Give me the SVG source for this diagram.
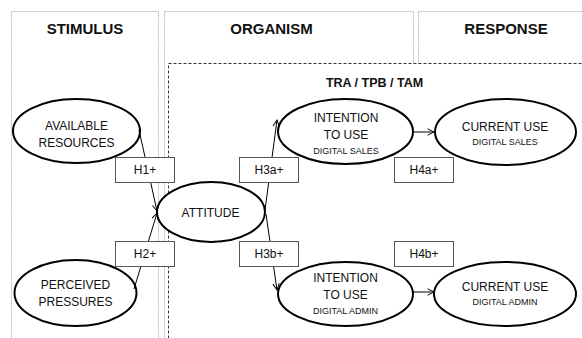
<svg xmlns="http://www.w3.org/2000/svg" width="582" height="338" viewBox="0 0 582 338">
<style>
.panel{fill:none;stroke:#bdbdbd;stroke-width:1;stroke-dasharray:2 1}
.head{font-family:"Liberation Sans",Arial,sans-serif;font-weight:bold;font-size:15px;fill:#111;text-anchor:middle}
.node ellipse{fill:#fff;stroke:#000;stroke-width:2}
.t{font-family:"Liberation Sans",Arial,sans-serif;font-size:12px;fill:#111;text-anchor:middle}
.s{font-family:"Liberation Sans",Arial,sans-serif;font-size:9px;fill:#111;text-anchor:middle}
.conn line{stroke:#000;stroke-width:1;marker-end:url(#arr)}
.lbl rect{fill:#fff;stroke:#555;stroke-width:1}
</style>
<defs>
<marker id="arr" viewBox="0 0 10 10" refX="9" refY="5" markerWidth="8" markerHeight="8" markerUnits="userSpaceOnUse" orient="auto">
<path d="M1,1 L9,5 L1,9" fill="none" stroke="#000" stroke-width="1.2"/>
</marker>
</defs>
<rect width="582" height="338" fill="#fff"/>
<g id="panels">
<rect class="panel" x="11.5" y="11.5" width="147" height="340"/>
<rect class="panel" x="164.5" y="11.5" width="249" height="340"/>
<rect class="panel" x="418.5" y="11.5" width="180" height="340"/>
<rect x="168.5" y="63.5" width="430" height="290" fill="#fff" stroke="#333" stroke-width="1" stroke-dasharray="3 2"/>
<text class="head" x="85" y="34">STIMULUS</text>
<text class="head" x="271.5" y="34">ORGANISM</text>
<text class="head" x="506" y="34">RESPONSE</text>
<text class="head" x="374.5" y="87" style="font-size:12.5px">TRA / TPB / TAM</text>
</g>
<g id="available" class="node">
<ellipse cx="76.5" cy="131" rx="63.5" ry="32"/>
<text class="t" x="76.5" y="129.5">AVAILABLE</text>
<text class="t" x="76.5" y="146.5">RESOURCES</text>
</g>
<g id="perceived" class="node">
<ellipse cx="75.5" cy="293" rx="61" ry="33"/>
<text class="t" x="75.5" y="288.5">PERCEIVED</text>
<text class="t" x="75.5" y="306">PRESSURES</text>
</g>
<g id="attitude" class="node">
<ellipse cx="211" cy="212" rx="54" ry="30"/>
<text class="t" x="210.5" y="217">ATTITUDE</text>
</g>
<g id="intention-sales" class="node">
<ellipse cx="345.5" cy="131.5" rx="67.5" ry="32.5"/>
<text class="t" x="346" y="121.5">INTENTION</text>
<text class="t" x="346" y="139">TO USE</text>
<text class="s" x="346" y="153.5">DIGITAL SALES</text>
</g>
<g id="current-sales" class="node">
<ellipse cx="505.5" cy="132" rx="70.5" ry="33"/>
<text class="t" x="505" y="130.5">CURRENT USE</text>
<text class="s" x="505" y="144.5">DIGITAL SALES</text>
</g>
<g id="intention-admin" class="node">
<ellipse cx="345.5" cy="294" rx="67.5" ry="32"/>
<text class="t" x="345.5" y="281.5">INTENTION</text>
<text class="t" x="345.5" y="298.5">TO USE</text>
<text class="s" x="345.5" y="313.5">DIGITAL ADMIN</text>
</g>
<g id="current-admin" class="node">
<ellipse cx="505" cy="294" rx="71" ry="32"/>
<text class="t" x="505" y="290.5">CURRENT USE</text>
<text class="s" x="505" y="305">DIGITAL ADMIN</text>
</g>
<g id="connectors" class="conn">
<line x1="139" y1="130" x2="157" y2="211"/>
<line x1="134" y1="289" x2="157" y2="213"/>
<line x1="265" y1="210" x2="277" y2="120"/>
<line x1="266" y1="214" x2="277" y2="290"/>
<line x1="413" y1="132" x2="434" y2="132"/>
<line x1="413" y1="292" x2="434" y2="292"/>
</g>
<g id="labels" class="lbl">
<g id="h1"><rect x="115.5" y="157.5" width="59" height="25"/><text class="t" x="145" y="174">H1+</text></g>
<g id="h2"><rect x="115.5" y="241.5" width="59" height="25"/><text class="t" x="145" y="258">H2+</text></g>
<g id="h3a"><rect x="239.5" y="157.5" width="59" height="25"/><text class="t" x="269" y="174">H3a+</text></g>
<g id="h3b"><rect x="239.5" y="241.5" width="59" height="25"/><text class="t" x="269" y="258">H3b+</text></g>
<g id="h4a"><rect x="394.5" y="157.5" width="59" height="25"/><text class="t" x="424" y="174">H4a+</text></g>
<g id="h4b"><rect x="394.5" y="241.5" width="59" height="25"/><text class="t" x="424" y="258">H4b+</text></g>
</g>
</svg>
